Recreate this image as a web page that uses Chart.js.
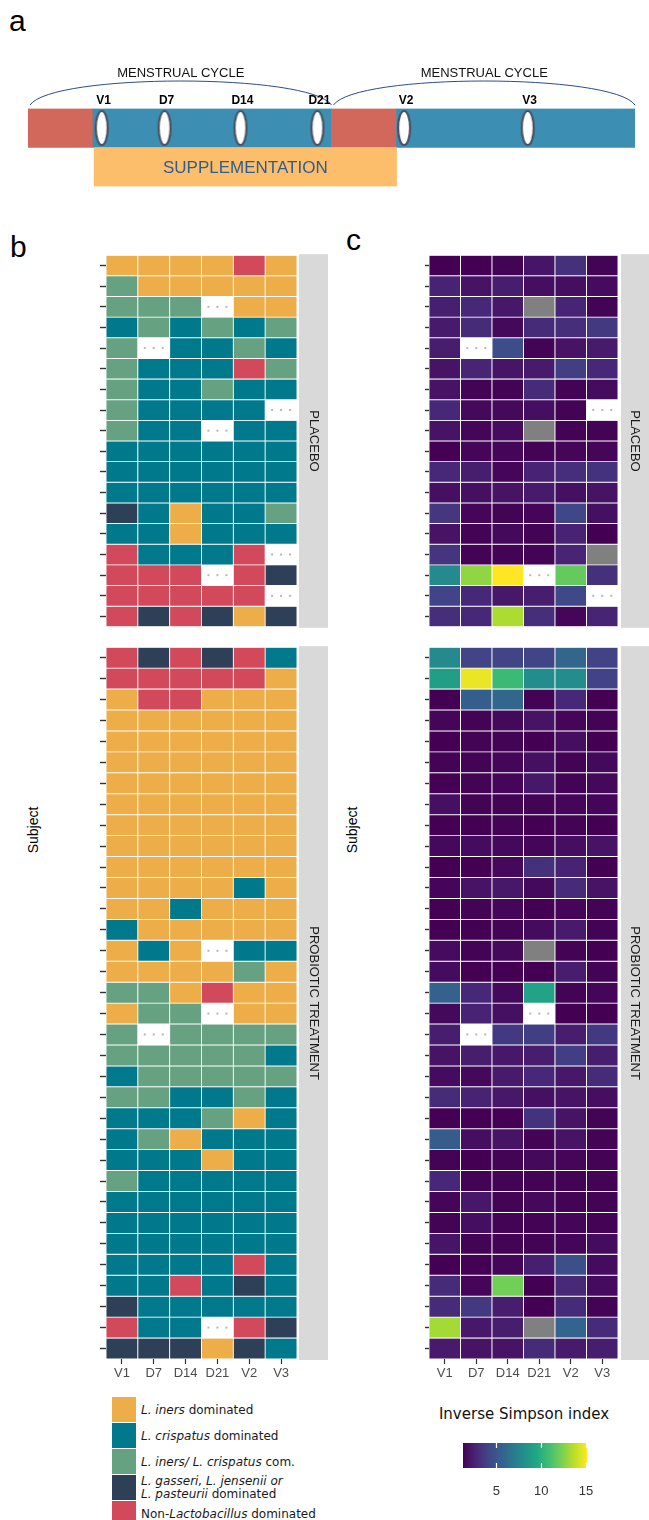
<!DOCTYPE html>
<html>
<head>
<meta charset="utf-8">
<script src="https://cdn.jsdelivr.net/npm/chart.js@4.4.0/dist/chart.umd.min.js"></script>
<style>
  body { margin: 0; width: 649px; height: 1520px; position: relative; overflow: hidden; background: #fff; font-family: "Liberation Sans", Arial, sans-serif; }
  canvas { position: absolute; }
  .panel { position: absolute; font-size: 30px; line-height: 1; color: #000; }
  .ytitle { position: absolute; font-size: 14px; color: #000; transform: translate(-50%, -50%) rotate(-90deg); white-space: nowrap; }
  #stateLegend { position: absolute; left: 112px; top: 1397px; }
  .leg-row { display: flex; align-items: center; height: 26px; }
  .leg-swatch { width: 24px; height: 25px; margin-bottom: 1px; flex: none; }
  .leg-text { margin-left: 5px; font-family: "DejaVu Sans", Verdana, sans-serif; font-size: 12px; line-height: 13px; color: #1a1a1a; }
  #cbTitle { position: absolute; left: 524px; top: 1414px; transform: translate(-50%, -50%); font-family: "DejaVu Sans", Verdana, sans-serif; font-size: 15px; color: #111; white-space: nowrap; }
</style>
</head>
<body>
<div class="panel" style="left:9px; top:6px;">a</div>
<div class="panel" style="left:10px; top:232px;">b</div>
<div class="panel" style="left:346px; top:225px;">c</div>

<canvas id="chartTimeline" width="649" height="200" style="left:0; top:0;"></canvas>

<canvas id="chartStatesPlacebo" width="250" height="392" style="left:90px; top:245px;"></canvas>
<canvas id="chartStatesProbiotic" width="250" height="760" style="left:90px; top:637px;"></canvas>
<canvas id="chartSimpsonPlacebo" width="236" height="392" style="left:413px; top:245px;"></canvas>
<canvas id="chartSimpsonProbiotic" width="236" height="760" style="left:413px; top:637px;"></canvas>

<div class="ytitle" style="left:33px; top:830px;">Subject</div>
<div class="ytitle" style="left:352px; top:830px;">Subject</div>

<div id="stateLegend"></div>
<div id="cbTitle">Inverse Simpson index</div>
<canvas id="chartColorbar" width="200" height="70" style="left:440px; top:1430px;"></canvas>

<script>
// ---- panel a : study timeline (days) ----
const phaseStart = [0, 6, 28, 34];
const phaseEnd = [6, 28, 34, 56];
const phaseKind = ['menses', 'cycle', 'menses', 'cycle'];
const cycleStart = [0, 28];
const cycleEnd = [28, 56];
const cycleLabel = ['MENSTRUAL CYCLE', 'MENSTRUAL CYCLE'];
const visits = ['V1', 'D7', 'D14', 'D21', 'V2', 'V3'];
const visitDay = [6.8, 12.6, 19.6, 26.7, 34.7, 46.1];
const supplementation = [6.1, 34];
const supplementationLabel = 'SUPPLEMENTATION';

// ---- panel b : community state per subject and visit ----
// I = L. iners, C = L. crispatus, M = iners/crispatus com., G = gasseri/jensenii/pasteurii, N = non-Lactobacillus
const stateCodes = ['I', 'C', 'M', 'G', 'N'];
const stateLabels = [
    '<i>L. iners</i> dominated',
    '<i>L. crispatus</i> dominated',
    '<i>L. iners/ L. crispatus</i> com.',
    '<i>L. gasseri, L. jensenii or<br>L. pasteurii</i> dominated',
    'Non-<i>Lactobacillus</i> dominated'
];
const stateColors = ['#EDAE49', '#00798C', '#66A182', '#2E4057', '#D1495B'];

const placeboStates = [
    ['I', 'I', 'I', 'I', 'N', 'I'],
    ['M', 'I', 'I', 'I', 'I', 'I'],
    ['M', 'M', 'M', null, 'I', 'I'],
    ['C', 'M', 'C', 'M', 'C', 'M'],
    ['M', null, 'C', 'C', 'M', 'C'],
    ['M', 'C', 'C', 'C', 'N', 'M'],
    ['M', 'C', 'C', 'M', 'C', 'C'],
    ['M', 'C', 'C', 'C', 'C', null],
    ['M', 'C', 'C', null, 'C', 'C'],
    ['C', 'C', 'C', 'C', 'C', 'C'],
    ['C', 'C', 'C', 'C', 'C', 'C'],
    ['C', 'C', 'C', 'C', 'C', 'C'],
    ['G', 'C', 'I', 'C', 'C', 'M'],
    ['C', 'C', 'I', 'C', 'C', 'C'],
    ['N', 'C', 'C', 'C', 'N', null],
    ['N', 'N', 'N', null, 'N', 'G'],
    ['N', 'N', 'N', 'N', 'N', null],
    ['N', 'G', 'N', 'G', 'I', 'G']
];

const probioticStates = [
    ['N', 'G', 'N', 'G', 'N', 'C'],
    ['N', 'N', 'N', 'N', 'N', 'I'],
    ['I', 'N', 'N', 'I', 'I', 'I'],
    ['I', 'I', 'I', 'I', 'I', 'I'],
    ['I', 'I', 'I', 'I', 'I', 'I'],
    ['I', 'I', 'I', 'I', 'I', 'I'],
    ['I', 'I', 'I', 'I', 'I', 'I'],
    ['I', 'I', 'I', 'I', 'I', 'I'],
    ['I', 'I', 'I', 'I', 'I', 'I'],
    ['I', 'I', 'I', 'I', 'I', 'I'],
    ['I', 'I', 'I', 'I', 'I', 'I'],
    ['I', 'I', 'I', 'I', 'C', 'I'],
    ['I', 'I', 'C', 'I', 'I', 'I'],
    ['C', 'I', 'I', 'I', 'I', 'I'],
    ['I', 'C', 'I', null, 'C', 'C'],
    ['I', 'I', 'I', 'I', 'M', 'I'],
    ['M', 'M', 'I', 'N', 'I', 'I'],
    ['I', 'M', 'M', null, 'I', 'I'],
    ['M', null, 'M', 'M', 'M', 'M'],
    ['M', 'M', 'M', 'M', 'M', 'C'],
    ['C', 'M', 'M', 'M', 'M', 'M'],
    ['M', 'M', 'C', 'C', 'M', 'C'],
    ['C', 'C', 'C', 'M', 'I', 'C'],
    ['C', 'M', 'I', 'C', 'C', 'C'],
    ['C', 'C', 'C', 'I', 'C', 'C'],
    ['M', 'C', 'C', 'C', 'C', 'C'],
    ['C', 'C', 'C', 'C', 'C', 'C'],
    ['C', 'C', 'C', 'C', 'C', 'C'],
    ['C', 'C', 'C', 'C', 'C', 'C'],
    ['C', 'C', 'C', 'C', 'N', 'C'],
    ['C', 'C', 'N', 'C', 'G', 'C'],
    ['G', 'C', 'C', 'C', 'C', 'C'],
    ['N', 'C', 'C', null, 'N', 'G'],
    ['G', 'G', 'G', 'I', 'G', 'C']
];

// ---- panel c : inverse Simpson index ('NA' = not computed, null = no sample) ----
const placeboSimpson = [
    [1.3, 1.3, 1.4, 2.1, 3.2, 1.4],
    [2.6, 2.0, 2.4, 1.8, 1.8, 1.7],
    [2.5, 2.8, 2.2, 'NA', 2.7, 1.4],
    [2.3, 3.0, 1.6, 3.0, 3.1, 3.6],
    [2.4, null, 4.5, 1.4, 2.0, 2.3],
    [2.0, 2.7, 2.1, 2.3, 3.8, 2.8],
    [2.0, 1.4, 1.4, 3.0, 1.4, 1.7],
    [2.8, 1.6, 1.6, 1.8, 1.4, null],
    [2.0, 1.5, 1.7, 'NA', 1.4, 1.4],
    [1.3, 1.5, 1.5, 1.4, 1.5, 1.5],
    [2.8, 2.4, 1.5, 2.6, 3.1, 3.3],
    [1.9, 1.9, 2.0, 2.3, 1.9, 2.0],
    [3.5, 1.5, 1.4, 1.5, 4.2, 1.9],
    [2.0, 1.4, 1.6, 1.4, 2.6, 1.3],
    [3.4, 1.4, 1.4, 1.4, 2.7, 'NA'],
    [7.8, 12.8, 15.1, null, 11.8, 3.2],
    [4.1, 2.8, 2.2, 2.4, 4.3, null],
    [3.1, 2.8, 13.4, 3.1, 1.5, 2.7]
];

const probioticSimpson = [
    [7.8, 4.1, 4.1, 4.1, 5.8, 4.0],
    [9.0, 14.7, 10.6, 7.9, 8.0, 4.0],
    [1.3, 5.4, 5.8, 1.4, 2.8, 1.3],
    [1.5, 1.4, 1.6, 2.0, 1.5, 1.4],
    [1.3, 1.4, 1.4, 1.3, 1.8, 1.3],
    [1.4, 1.4, 1.5, 1.9, 1.4, 1.6],
    [1.3, 1.4, 1.5, 2.2, 1.4, 1.6],
    [1.9, 1.4, 1.4, 1.4, 1.5, 1.5],
    [1.3, 1.3, 1.4, 1.3, 1.4, 1.3],
    [1.6, 1.7, 1.6, 1.5, 1.8, 2.0],
    [1.3, 1.3, 1.6, 3.2, 2.6, 1.3],
    [1.5, 2.0, 2.2, 1.6, 3.0, 2.0],
    [1.3, 1.4, 1.5, 1.3, 1.5, 1.4],
    [1.3, 1.3, 1.4, 1.7, 2.3, 1.4],
    [1.7, 1.4, 1.6, 'NA', 1.4, 1.3],
    [1.7, 1.3, 1.3, 1.3, 2.4, 1.4],
    [5.6, 2.8, 1.6, 9.2, 1.4, 1.5],
    [1.6, 2.6, 1.9, null, 1.3, 1.3],
    [2.4, null, 3.6, 3.8, 2.4, 3.6],
    [2.0, 2.4, 2.2, 2.4, 3.8, 2.4],
    [1.7, 1.6, 2.3, 2.8, 2.2, 3.0],
    [3.0, 2.6, 2.2, 1.9, 2.0, 1.8],
    [1.3, 1.3, 1.3, 3.3, 2.0, 1.4],
    [5.3, 1.8, 2.0, 1.4, 2.0, 1.4],
    [1.4, 1.3, 1.4, 1.6, 1.5, 1.4],
    [2.8, 1.4, 1.4, 1.4, 1.4, 1.4],
    [1.5, 2.2, 1.4, 1.6, 1.4, 1.4],
    [1.4, 1.8, 1.4, 1.4, 1.5, 1.4],
    [2.1, 1.4, 1.4, 1.4, 1.5, 1.7],
    [1.3, 1.3, 1.5, 2.5, 4.6, 1.7],
    [3.0, 1.5, 12.1, 1.3, 2.9, 1.7],
    [3.0, 3.6, 2.4, 1.3, 3.0, 1.4],
    [13.2, 2.2, 2.4, 'NA', 5.7, 3.0],
    [2.3, 2.0, 2.0, 3.0, 2.3, 2.4]
];

const simpsonMin = 1.3;
const simpsonMax = 15.1;
const colorbarTicks = [5, 10, 15];

const fontFamily = '"Liberation Sans", Arial, sans-serif';
const viridisStops = ['#440154', '#482475', '#414487', '#355f8d', '#2a788e', '#21918c',
                      '#22a884', '#44bf70', '#7ad151', '#bddf26', '#fde725'];

function hexToRgb(hex) {
    const n = parseInt(hex.slice(1), 16);
    return [(n >> 16) & 255, (n >> 8) & 255, n & 255];
}

function viridis(t) {
    t = Math.min(1, Math.max(0, t));
    const p = t * (viridisStops.length - 1);
    const i = Math.min(Math.floor(p), viridisStops.length - 2);
    const f = p - i;
    const a = hexToRgb(viridisStops[i]);
    const b = hexToRgb(viridisStops[i + 1]);
    const c = a.map((v, k) => Math.round(v + (b[k] - v) * f));
    return `rgb(${c[0]}, ${c[1]}, ${c[2]})`;
}

function stateColor(code) {
    if (code === null) return '#ffffff';
    return stateColors[stateCodes.indexOf(code)];
}

function simpsonColor(v) {
    if (v === null) return '#ffffff';
    if (v === 'NA') return '#808080';
    return viridis((v - simpsonMin) / (simpsonMax - simpsonMin));
}

// gray facet strip on the right of the panel
const stripPlugin = {
    id: 'facetStrip',
    afterDraw(chart, args, opts) {
        const { ctx, chartArea } = chart;
        const x0 = chartArea.right + opts.gap;
        ctx.save();
        ctx.fillStyle = '#d9d9d9';
        ctx.fillRect(x0, chartArea.top - 1, opts.width, chartArea.bottom - chartArea.top + 2);
        ctx.translate(x0 + opts.width / 2, (chartArea.top + chartArea.bottom) / 2);
        ctx.rotate(Math.PI / 2);
        ctx.fillStyle = '#1a1a1a';
        ctx.font = '13px ' + fontFamily;
        ctx.textAlign = 'center';
        ctx.textBaseline = 'middle';
        ctx.fillText(opts.text, 0, 0);
        ctx.restore();
    }
};

// dotted marks on cells without a sample
const missingPlugin = {
    id: 'missingMarks',
    afterDatasetsDraw(chart) {
        const ctx = chart.ctx;
        ctx.save();
        ctx.fillStyle = '#b8b8b8';
        chart.data.datasets.forEach((ds, i) => {
            const meta = chart.getDatasetMeta(i);
            ds.missing.forEach((m, j) => {
                if (!m) return;
                const bar = meta.data[j];
                const cy = (bar.y + bar.base) / 2;
                [-9, 0, 9].forEach(dx => ctx.fillRect(bar.x + dx - 1, cy - 1, 2, 2));
            });
        });
        ctx.restore();
    }
};

function makeHeatmap(canvasId, rows, cellColor, opts) {
    const datasets = rows.map((row, r) => ({
        label: 'Subject ' + (r + 1),
        data: row.map(() => 1),
        backgroundColor: row.map(cellColor),
        missing: row.map(v => v === null)
    }));

    return new Chart(document.getElementById(canvasId), {
        type: 'bar',
        data: { labels: visits, datasets: datasets },
        options: {
            responsive: false,
            animation: false,
            layout: { padding: { top: 6, right: opts.stripGap + opts.stripWidth + opts.rightSpace, bottom: opts.showX ? 0 : 6, left: 0 } },
            datasets: {
                bar: { barPercentage: 1, categoryPercentage: 1, borderColor: '#ffffff', borderWidth: 0.8, borderSkipped: false }
            },
            plugins: {
                legend: { display: false },
                tooltip: { enabled: false },
                facetStrip: { text: opts.strip, gap: opts.stripGap, width: opts.stripWidth }
            },
            scales: {
                x: {
                    stacked: true,
                    display: opts.showX,
                    grid: { display: true, offset: false, drawOnChartArea: false, tickLength: 5, tickColor: '#333', tickWidth: 1.2 },
                    border: { display: false },
                    ticks: { color: '#4d4d4d', font: { size: 13, family: fontFamily }, padding: 2 },
                    afterFit: s => { s.height = opts.showX ? 38 : 0; }
                },
                y: {
                    stacked: true,
                    reverse: true,
                    min: 0,
                    max: rows.length,
                    grid: { display: true, drawOnChartArea: false, tickLength: opts.tickLength, tickColor: '#333', tickWidth: 1.4 },
                    border: { display: false },
                    ticks: { callback: () => '' },
                    afterBuildTicks: s => { s.ticks = rows.map((_, i) => ({ value: i + 0.5 })); },
                    afterFit: s => { s.width = 16; }
                }
            }
        },
        plugins: [stripPlugin, missingPlugin]
    });
}

function makeOvalImage() {
    const c = document.createElement('canvas');
    c.width = 16;
    c.height = 38;
    const g = c.getContext('2d');
    g.beginPath();
    g.ellipse(8, 19, 6, 17, 0, 0, Math.PI * 2);
    g.fillStyle = '#ffffff';
    g.fill();
    g.lineWidth = 2.2;
    g.strokeStyle = '#4b5262';
    g.stroke();
    return c;
}

const timelinePlugin = {
    id: 'timelineNotes',
    afterDatasetsDraw(chart) {
        const { ctx, scales } = chart;
        const x = scales.x;
        const y = scales.y;
        const barTop = y.getPixelForValue(1) - 20;
        ctx.save();

        // cycle arcs
        ctx.strokeStyle = '#2B4C8C';
        ctx.lineWidth = 1;
        cycleStart.forEach((s, i) => {
            const x0 = x.getPixelForValue(s) + 2;
            const x1 = x.getPixelForValue(cycleEnd[i]);
            const yEnd = barTop - 3;
            ctx.beginPath();
            ctx.moveTo(x0, yEnd);
            ctx.bezierCurveTo(x0 + 22, yEnd - 32, x1 - 22, yEnd - 32, x1, yEnd);
            ctx.stroke();
            ctx.fillStyle = '#111';
            ctx.font = '13px ' + fontFamily;
            ctx.textAlign = 'center';
            ctx.textBaseline = 'middle';
            ctx.fillText(cycleLabel[i], (x0 + x1) / 2, barTop - 35);
        });

        // visit labels
        ctx.fillStyle = '#000';
        ctx.font = 'bold 12px ' + fontFamily;
        ctx.textAlign = 'center';
        ctx.textBaseline = 'middle';
        visits.forEach((v, i) => {
            ctx.fillText(v, x.getPixelForValue(visitDay[i]) + 2, barTop - 7);
        });

        // supplementation label
        const supBar = chart.getDatasetMeta(1).data[phaseStart.length];
        ctx.fillStyle = '#2F5D8E';
        ctx.font = '17px ' + fontFamily;
        ctx.fillText(supplementationLabel, (supBar.x + supBar.base) / 2, supBar.y + 1);
        ctx.restore();
    }
};

function makeTimeline() {
    const barData = phaseStart.map((s, i) => ({ x: [s, phaseEnd[i]], y: 1 }));
    barData.push({ x: supplementation, y: 0 });
    const barColors = phaseKind.map(k => k === 'menses' ? '#D2675B' : '#3C8EB3');
    barColors.push('#FDBE6B');

    new Chart(document.getElementById('chartTimeline'), {
        type: 'bar',
        data: {
            datasets: [
                {
                    type: 'scatter',
                    order: 0,
                    data: visitDay.map(d => ({ x: d, y: 1 })),
                    pointStyle: makeOvalImage(),
                    pointRadius: 8
                },
                {
                    type: 'bar',
                    order: 1,
                    indexAxis: 'y',
                    data: barData,
                    backgroundColor: barColors,
                    barThickness: 39,
                    borderWidth: 0
                }
            ]
        },
        options: {
            responsive: false,
            animation: false,
            layout: { padding: { left: 28, right: 14, top: 108.5, bottom: 13.5 } },
            plugins: { legend: { display: false }, tooltip: { enabled: false } },
            scales: {
                x: { type: 'linear', min: 0, max: 56, offset: false, display: false },
                y: { type: 'linear', min: -0.5, max: 1.5, offset: false, display: false }
            }
        },
        plugins: [timelinePlugin]
    });
}

const colorbarTickPlugin = {
    id: 'colorbarTicks',
    afterDatasetsDraw(chart) {
        const { ctx, chartArea, scales } = chart;
        ctx.save();
        ctx.strokeStyle = '#ffffff';
        ctx.lineWidth = 1.2;
        colorbarTicks.forEach(v => {
            const px = Math.round(scales.x.getPixelForValue(v)) + 0.5;
            ctx.beginPath();
            ctx.moveTo(px, chartArea.top);
            ctx.lineTo(px, chartArea.top + 5);
            ctx.moveTo(px, chartArea.bottom - 5);
            ctx.lineTo(px, chartArea.bottom);
            ctx.stroke();
        });
        ctx.restore();
    }
};

function makeColorbar() {
    new Chart(document.getElementById('chartColorbar'), {
        type: 'bar',
        data: {
            labels: ['Inverse Simpson index'],
            datasets: [{
                data: [[simpsonMin, simpsonMax]],
                backgroundColor: c => {
                    const area = c.chart.chartArea;
                    if (!area) return viridis(0.5);
                    const g = c.chart.ctx.createLinearGradient(area.left, 0, area.right, 0);
                    viridisStops.forEach((col, i) => g.addColorStop(i / (viridisStops.length - 1), col));
                    return g;
                },
                barPercentage: 1,
                categoryPercentage: 1,
                borderWidth: 0
            }]
        },
        options: {
            indexAxis: 'y',
            responsive: false,
            animation: false,
            layout: { padding: { left: 23, right: 53, top: 13, bottom: 0 } },
            plugins: { legend: { display: false }, tooltip: { enabled: false } },
            scales: {
                y: { display: false },
                x: {
                    type: 'linear',
                    min: simpsonMin,
                    max: simpsonMax,
                    grid: { display: false },
                    border: { display: false },
                    ticks: { color: '#333', font: { size: 13, family: fontFamily }, padding: 8 },
                    afterBuildTicks: s => { s.ticks = colorbarTicks.map(v => ({ value: v })); },
                    afterFit: s => { s.height = 32; }
                }
            }
        },
        plugins: [colorbarTickPlugin]
    });
}

function fillStateLegend() {
    const box = document.getElementById('stateLegend');
    stateCodes.forEach((code, i) => {
        const row = document.createElement('div');
        row.className = 'leg-row';
        row.innerHTML = `<div class="leg-swatch" style="background:${stateColors[i]}"></div>
                         <div class="leg-text">${stateLabels[i]}</div>`;
        box.appendChild(row);
    });
}

makeTimeline();
makeHeatmap('chartStatesPlacebo', placeboStates, stateColor,
    { strip: 'PLACEBO', showX: false, stripGap: 2, stripWidth: 29, rightSpace: 12, tickLength: 6 });
makeHeatmap('chartStatesProbiotic', probioticStates, stateColor,
    { strip: 'PROBIOTIC TREATMENT', showX: true, stripGap: 2, stripWidth: 29, rightSpace: 12, tickLength: 6 });
makeHeatmap('chartSimpsonPlacebo', placeboSimpson, simpsonColor,
    { strip: 'PLACEBO', showX: false, stripGap: 3, stripWidth: 28, rightSpace: 0, tickLength: 4 });
makeHeatmap('chartSimpsonProbiotic', probioticSimpson, simpsonColor,
    { strip: 'PROBIOTIC TREATMENT', showX: true, stripGap: 3, stripWidth: 28, rightSpace: 0, tickLength: 4 });
makeColorbar();
fillStateLegend();
</script>
</body>
</html>
